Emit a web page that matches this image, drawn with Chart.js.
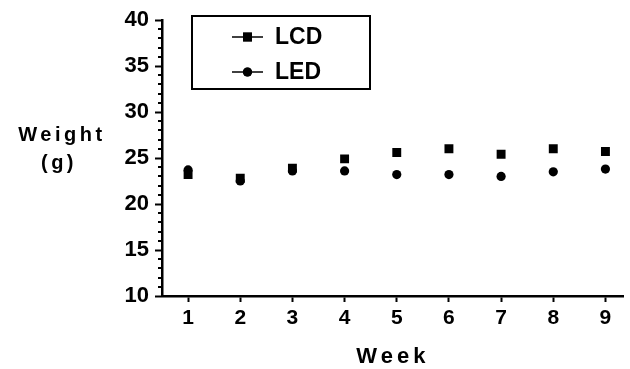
<!DOCTYPE html>
<html>
<head>
<meta charset="utf-8">
<script src="https://cdn.jsdelivr.net/npm/chart.js@4/dist/chart.umd.min.js"></script>
<style>
  html, body { margin: 0; padding: 0; background: #fff; }
  #wrap { width: 630px; height: 369px; }
</style>
</head>
<body>
<div id="wrap"><canvas id="chart" width="630" height="369"></canvas></div>
<script>
// Данные графика
const weeks = [1, 2, 3, 4, 5, 6, 7, 8, 9];
const lcdWeight = [23.2, 22.8, 23.9, 24.9, 25.6, 26.0, 25.4, 26.0, 25.7];
const ledWeight = [23.7, 22.5, 23.6, 23.6, 23.2, 23.2, 23.0, 23.5, 23.8];
const seriesLabels = ['LCD', 'LED'];
const yTitleLines = ['Weight', '(g)'];
const xTitle = 'Week';

const FONT = '"Liberation Sans", Arial, Helvetica, sans-serif';

// Мелкие засечки на оси Y (каждая единица)
const minorTicks = {
    id: 'minorTicks',
    afterDraw(chart) {
        const y = chart.scales.y;
        const ctx = chart.ctx;
        ctx.save();
        ctx.strokeStyle = '#000';
        ctx.lineWidth = 2;
        for (let v = y.min; v <= y.max; v++) {
            if (v % 5 === 0) continue;
            const py = Math.round(y.getPixelForValue(v));
            ctx.beginPath();
            ctx.moveTo(y.right - 4, py);
            ctx.lineTo(y.right, py);
            ctx.stroke();
        }
        ctx.restore();
    }
};

// Подписи осей с разрядкой
const axisTitles = {
    id: 'axisTitles',
    afterDraw(chart) {
        const ctx = chart.ctx;
        const area = chart.chartArea;
        ctx.save();
        ctx.fillStyle = '#000';
        ctx.textAlign = 'center';
        ctx.textBaseline = 'middle';
        ctx.font = 'bold 20px ' + FONT;
        ctx.letterSpacing = '3.5px';
        ctx.fillText(yTitleLines[0], 62, 135);
        ctx.fillText(yTitleLines[1], 59, 163);
        ctx.font = 'bold 22px ' + FONT;
        ctx.letterSpacing = '4px';
        ctx.fillText(xTitle, (area.left + area.right) / 2, 357);
        ctx.restore();
    }
};

// Легенда в рамке: линия + маркер
const boxLegend = {
    id: 'boxLegend',
    afterDraw(chart) {
        const ctx = chart.ctx;
        const bx = 192, by = 16, bw = 178, bh = 73;
        ctx.save();
        ctx.strokeStyle = '#000';
        ctx.lineWidth = 2;
        ctx.strokeRect(bx, by, bw, bh);
        ctx.font = 'bold 23px ' + FONT;
        ctx.textBaseline = 'middle';
        ctx.fillStyle = '#000';
        chart.data.datasets.forEach((ds, i) => {
            const cy = by + 21 + i * 35;
            ctx.lineWidth = 1.5;
            ctx.beginPath();
            ctx.moveTo(232, cy);
            ctx.lineTo(263, cy);
            ctx.stroke();
            Chart.helpers.drawPoint(ctx, {
                pointStyle: ds.pointStyle,
                radius: ds.pointRadius,
                borderWidth: 0,
                rotation: 0
            }, 247.5, cy);
            ctx.fill();
            ctx.fillText(ds.label, 275, cy + 1);
        });
        ctx.restore();
    }
};

const ctx = document.getElementById('chart').getContext('2d');
new Chart(ctx, {
    type: 'scatter',
    data: {
        datasets: [
            {
                label: seriesLabels[0],
                data: weeks.map((w, i) => ({ x: w, y: lcdWeight[i] })),
                pointStyle: 'rect',
                pointRadius: 6.3,
                backgroundColor: '#000',
                borderColor: '#000',
                borderWidth: 0
            },
            {
                label: seriesLabels[1],
                data: weeks.map((w, i) => ({ x: w, y: ledWeight[i] })),
                pointStyle: 'circle',
                pointRadius: 4.6,
                backgroundColor: '#000',
                borderColor: '#000',
                borderWidth: 0
            }
        ]
    },
    options: {
        responsive: false,
        animation: false,
        layout: { padding: { top: 20, right: 0, left: 0, bottom: 0 } },
        plugins: {
            legend: { display: false },
            tooltip: { enabled: false }
        },
        scales: {
            x: {
                type: 'linear',
                min: 0.5,
                max: 9.35,
                afterBuildTicks: scale => { scale.ticks = weeks.map(v => ({ value: v })); },
                afterFit: scale => { scale.height = 73; },
                border: { display: true, color: '#000', width: 2.5 },
                grid: { drawOnChartArea: false, tickLength: 6, tickWidth: 2, tickColor: '#000' },
                ticks: {
                    color: '#000',
                    padding: 4,
                    font: { family: FONT, size: 21, weight: 'bold' }
                }
            },
            y: {
                min: 10,
                max: 40,
                afterFit: scale => { scale.width = 162; },
                border: { display: true, color: '#000', width: 2.5 },
                grid: { drawOnChartArea: false, tickLength: 7, tickWidth: 2, tickColor: '#000' },
                ticks: {
                    stepSize: 5,
                    color: '#000',
                    padding: 6,
                    font: { family: FONT, size: 22, weight: 'bold' }
                }
            }
        }
    },
    plugins: [minorTicks, axisTitles, boxLegend]
});
</script>
</body>
</html>
